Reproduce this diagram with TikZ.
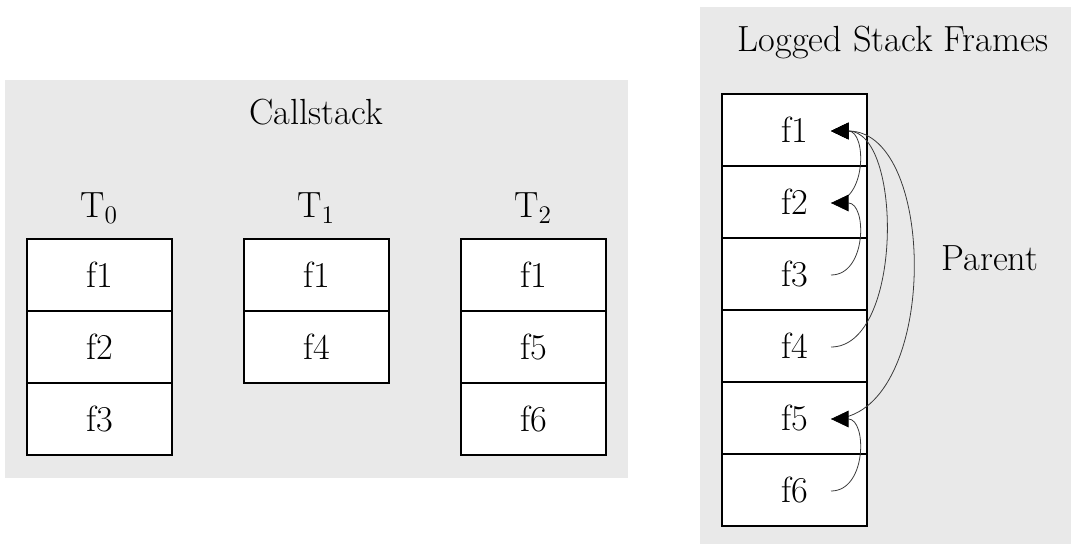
\documentclass[tikz,border=0pt]{standalone}
\usetikzlibrary{arrows.meta}
\definecolor{panelgray}{HTML}{E9E9E9}
\definecolor{linkgray}{HTML}{3A3A3A}
\tikzset{
  panel/.style={fill=panelgray, draw=none},
  frame/.style={draw=black, line width=1.1pt, fill=white, minimum width=145*0.02cm, minimum height=72*0.02cm, inner sep=0pt, font=\fontsize{20.7}{25}\selectfont},
  title/.style={font=\fontsize{20.7}{25}\selectfont, inner sep=0pt},
  link/.style={draw=linkgray, line width=0.45pt, -{Triangle[length=10pt,width=9.5pt,color=black,fill=black]}},
}
\begin{document}
\begin{tikzpicture}[x=0.02cm,y=-0.02cm]
\useasboundingbox (0,0) rectangle (1071,544);
% panels
\fill[panel] (5,80) rectangle (628,478);
\fill[panel] (700,7) rectangle (1071,544);
% titles
\node[title] (callstack) at (316,112) {Callstack};
\node[title] (logged) at (893,43) {Logged Stack Frames};
\node[title] (parent) at (990,258) {Parent};
\node[title] (t0) at (99,208) {$\mathrm{T}_0$};
\node[title] (t1) at (316,208) {$\mathrm{T}_1$};
\node[title] (t2) at (533,208) {$\mathrm{T}_2$};
% T0
\node[frame] (a1) at (99.5,275) {f1};
\node[frame] (a2) at (99.5,347) {f2};
\node[frame] (a3) at (99.5,419) {f3};
% T1
\node[frame] (b1) at (316.5,275) {f1};
\node[frame] (b2) at (316.5,347) {f4};
% T2
\node[frame] (c1) at (533.5,275) {f1};
\node[frame] (c2) at (533.5,347) {f5};
\node[frame] (c3) at (533.5,419) {f6};
% logged
\node[frame] (l1) at (794.5,130) {f1};
\node[frame] (l2) at (794.5,202) {f2};
\node[frame] (l3) at (794.5,274) {f3};
\node[frame] (l4) at (794.5,346) {f4};
\node[frame] (l5) at (794.5,418) {f5};
\node[frame] (l6) at (794.5,490) {f6};
% anchor points
\coordinate (p1) at (831,131);
\coordinate (p2) at (831,203);
\coordinate (p3) at (831,275);
\coordinate (p4) at (831,347);
\coordinate (p5) at (831,419);
\coordinate (p6) at (831,491);
% parent links
\draw[link] (p2) .. controls +(36,0) and +(36,0) .. (p1);
\draw[link] (p3) .. controls +(36,0) and +(36,0) .. (p2);
\draw[link] (p4) .. controls +(72,0) and +(72,0) .. (p1);
\draw[link] (p5) .. controls +(108,0) and +(108,0) .. (p1);
\draw[link] (p6) .. controls +(36,0) and +(36,0) .. (p5);
\end{tikzpicture}
\end{document}
